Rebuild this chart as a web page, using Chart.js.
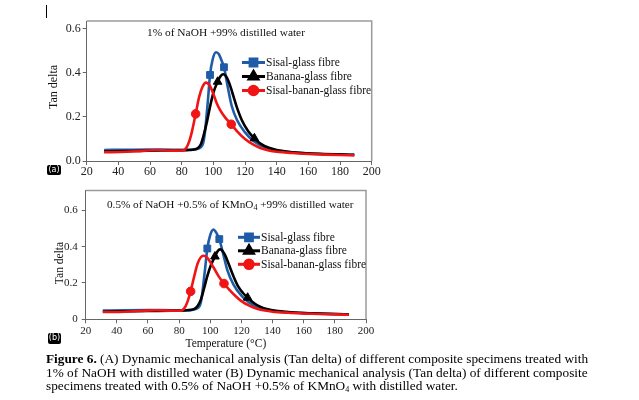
<!DOCTYPE html>
<html>
<head>
<meta charset="utf-8">
<script src="https://cdn.jsdelivr.net/npm/chart.js@4.4.0/dist/chart.umd.min.js"></script>
<style>
  body { margin: 0; background: #fff; width: 639px; height: 400px; position: relative; overflow: hidden; font-family: "Liberation Serif", serif; }
  canvas { position: absolute; left: 0; }
  .t { position: absolute; white-space: nowrap; color: #111; }
  .ytitle { position: absolute; font-size: 12px; white-space: nowrap; color: #111; transform: translate(-50%, -50%) rotate(-90deg); }
  .tag { position: absolute; background: #000; color: #fff; font-family: "DejaVu Sans", sans-serif; font-size: 8px; line-height: 10px; border-radius: 2px; text-align: center; }
  .sub { font-size: 8px; position: relative; top: 2px; }
  #cap { position: absolute; left: 46px; top: 352px; font-size: 13.3px; line-height: 13.5px; white-space: nowrap; color: #000; }
</style>
</head>
<body>
<div style="position:absolute;left:46px;top:5px;width:1px;height:13px;background:#000"></div>

<canvas id="chartA" width="400" height="182" style="top:0"></canvas>
<canvas id="chartB" width="400" height="172" style="top:180px"></canvas>

<div class="t" style="left:147px;top:26px;font-size:11.4px">1% of NaOH +99% distilled water</div>
<div class="t" style="left:107px;top:198px;font-size:11.2px">0.5% of NaOH +0.5% of KMnO<span class="sub">4</span> +99% distilled water</div>
<div class="ytitle" style="left:53px;top:87px">Tan delta</div>
<div class="ytitle" style="left:59px;top:263px;font-size:11.5px">Tan delta</div>
<div class="tag" style="left:47px;top:165px;width:14px;height:10px">(a)</div>
<div class="tag" style="left:48px;top:333px;width:13px;height:11px">(b)</div>

<div id="cap"><b>Figure 6.</b> (A) Dynamic mechanical analysis (Tan delta) of different composite specimens treated with<br>1% of NaOH with distilled water (B) Dynamic mechanical analysis (Tan delta) of different composite<br>specimens treated with 0.5% of NaOH +0.5% of KMnO<span class="sub">4</span> with distilled water.</div>

<script>
// series labels
var seriesNames = ['Sisal-glass fibre', 'Banana-glass fibre', 'Sisal-banan-glass fibre'];
var xTicks = [20, 40, 60, 80, 100, 120, 140, 160, 180, 200];
var yTicksA = ['0.0', '0.2', '0.4', '0.6'];
var yTicksB = ['0', '0.2', '0.4', '0.6'];

// (a) 1% NaOH
var sisalA_T = [31, 45, 60, 75, 85, 89, 92, 93.5, 94.5, 95.5, 96.5, 97.9, 99.5, 101.7, 103.5, 105, 106.7, 109, 111.6, 115, 120, 125, 130, 135, 140, 150, 160, 170, 180, 189];
var sisalA_V = [0.050, 0.051, 0.052, 0.051, 0.051, 0.054, 0.062, 0.080, 0.120, 0.190, 0.270, 0.391, 0.460, 0.494, 0.485, 0.460, 0.426, 0.340, 0.250, 0.185, 0.130, 0.093, 0.070, 0.056, 0.047, 0.039, 0.034, 0.031, 0.029, 0.028];
var sisalA_marks = [97.9, 106.7];

var bananaA_T = [31, 45, 60, 75, 85, 89.5, 92, 93.6, 96, 97.9, 100, 102.7, 104.5, 106.3, 108, 110, 112, 114.7, 118, 122, 125.9, 130, 135, 140, 150, 160, 170, 180, 189];
var bananaA_V = [0.043, 0.045, 0.047, 0.048, 0.050, 0.055, 0.075, 0.110, 0.180, 0.247, 0.310, 0.360, 0.385, 0.394, 0.385, 0.355, 0.310, 0.247, 0.185, 0.135, 0.103, 0.078, 0.060, 0.050, 0.040, 0.035, 0.032, 0.030, 0.028];
var bananaA_marks = [102.7, 125.9];

var mixA_T = [31, 45, 55, 65, 72, 80, 82, 84, 86, 88.8, 91, 93, 95.4, 97.5, 100, 102, 104.2, 107.5, 111.3, 115, 120, 125, 130, 135, 140, 150, 160, 170, 180, 189];
var mixA_V = [0.040, 0.042, 0.046, 0.050, 0.047, 0.047, 0.052, 0.075, 0.120, 0.214, 0.290, 0.335, 0.356, 0.345, 0.305, 0.265, 0.232, 0.197, 0.167, 0.135, 0.100, 0.075, 0.058, 0.048, 0.042, 0.036, 0.032, 0.029, 0.027, 0.026];
var mixA_marks = [88.8, 111.3];

// (b) 0.5% NaOH + 0.5% KMnO4
var sisalB_T = [31, 45, 60, 75, 85, 89, 92, 93.5, 94.5, 95.5, 96.7, 98.1, 100, 102, 104, 105.8, 108, 111, 115, 120, 125, 130, 135, 140, 150, 160, 170, 180, 189];
var sisalB_V = [0.048, 0.050, 0.051, 0.050, 0.050, 0.053, 0.062, 0.080, 0.120, 0.190, 0.280, 0.390, 0.465, 0.495, 0.475, 0.442, 0.370, 0.270, 0.190, 0.130, 0.092, 0.070, 0.055, 0.047, 0.039, 0.034, 0.031, 0.029, 0.027];
var sisalB_marks = [98.1, 105.8];

var bananaB_T = [31, 45, 60, 75, 85, 89.5, 92, 94, 96, 98, 100.5, 103, 104.7, 106.3, 108, 110, 112, 115, 118, 121, 124, 128, 132, 137, 142, 150, 160, 170, 180, 189];
var bananaB_V = [0.042, 0.044, 0.046, 0.047, 0.050, 0.056, 0.075, 0.110, 0.170, 0.235, 0.300, 0.346, 0.375, 0.385, 0.375, 0.345, 0.300, 0.235, 0.180, 0.145, 0.119, 0.090, 0.070, 0.055, 0.047, 0.040, 0.035, 0.032, 0.029, 0.027];
var bananaB_marks = [103, 124];

var mixB_T = [31, 45, 55, 65, 72, 80, 82, 84, 85.5, 87.4, 89.5, 92, 95.5, 98, 100, 102.5, 105.5, 108.8, 112, 116, 120, 125, 130, 135, 140, 150, 160, 170, 180, 189];
var mixB_V = [0.040, 0.042, 0.046, 0.050, 0.048, 0.047, 0.050, 0.070, 0.100, 0.154, 0.230, 0.310, 0.350, 0.340, 0.315, 0.280, 0.235, 0.197, 0.165, 0.130, 0.100, 0.075, 0.058, 0.048, 0.042, 0.036, 0.032, 0.029, 0.027, 0.025];
var mixB_marks = [87.4, 108.8];

var colors = ['#1f5ca8', '#000000', '#f01414'];
var markers = ['rect', 'triangle', 'circle'];
var markerSize = [4.8, 5, 4.3];

function pts(T, V) {
    return T.map(function (t, i) { return { x: t, y: V[i] }; });
}

function makeSet(i, T, V, marks) {
    return {
        label: seriesNames[i],
        data: pts(T, V),
        borderColor: colors[i],
        backgroundColor: colors[i],
        borderWidth: 2.6,
        pointStyle: markers[i],
        pointBackgroundColor: colors[i],
        pointBorderColor: colors[i],
        pointBorderWidth: 1,
        pointRadius: function (ctx) {
            return marks.indexOf(ctx.raw.x) >= 0 ? markerSize[i] : 0;
        },
        tension: 0.4,
        cubicInterpolationMode: 'monotone',
        order: 2 - i
    };
}

// grey top/right border of the plot box
var framePlugin = {
    id: 'frame',
    beforeDatasetsDraw: function (chart) {
        var a = chart.chartArea, c = chart.ctx;
        c.save();
        c.strokeStyle = '#9a9a9a';
        c.lineWidth = 1.5;
        c.beginPath();
        c.moveTo(a.left, a.top);
        c.lineTo(a.right, a.top);
        c.lineTo(a.right, a.bottom);
        c.stroke();
        c.restore();
    }
};

// line + marker legend like the excel one
var legendPlugin = {
    id: 'lineLegend',
    afterDraw: function (chart, args, opts) {
        var c = chart.ctx;
        c.save();
        chart.data.datasets.forEach(function (ds, i) {
            var y = opts.y + i * opts.dy;
            c.strokeStyle = ds.borderColor;
            c.lineWidth = 3;
            c.beginPath();
            c.moveTo(opts.x, y);
            c.lineTo(opts.x + opts.len, y);
            c.stroke();
            c.fillStyle = ds.borderColor;
            Chart.helpers.drawPoint(c, { pointStyle: ds.pointStyle, radius: markerSize[i], rotation: 0, borderWidth: 1 }, opts.x + opts.len / 2, y);
            c.fill();
            c.fillStyle = '#111';
            c.font = '11.5px "Liberation Serif", serif';
            c.textBaseline = 'middle';
            c.fillText(ds.label, opts.x + opts.len + 1, y + 0.5);
        });
        c.restore();
    }
};

function makeChart(id, sets, cfg) {
    var tickFont = { family: '"Liberation Serif", serif', size: cfg.fs };
    return new Chart(document.getElementById(id), {
        type: 'line',
        data: { datasets: sets },
        plugins: [framePlugin, legendPlugin],
        options: {
            responsive: false,
            animation: false,
            events: [],
            layout: { padding: { left: 0, top: cfg.top, right: cfg.right, bottom: 0 } },
            plugins: {
                legend: { display: false },
                tooltip: { enabled: false },
                lineLegend: cfg.legend
            },
            scales: {
                x: {
                    type: 'linear',
                    min: 20,
                    max: 200,
                    afterBuildTicks: function (s) { s.ticks = xTicks.map(function (v) { return { value: v }; }); },
                    afterFit: function (s) { s.height = cfg.xh; },
                    ticks: { color: '#222', padding: cfg.xpad, maxRotation: 0, font: tickFont },
                    grid: { drawOnChartArea: false, tickLength: 4, color: '#666' },
                    border: { color: '#666', width: 1 },
                    title: cfg.xTitle ? { display: true, text: cfg.xTitle, color: '#111', padding: { top: 0, bottom: 1 }, font: { family: '"Liberation Serif", serif', size: 11.5 } } : { display: false }
                },
                y: {
                    min: 0,
                    max: cfg.ymax,
                    afterBuildTicks: function (s) { s.ticks = [0, 0.2, 0.4, 0.6].map(function (v) { return { value: v }; }); },
                    afterFit: function (s) { s.width = cfg.yw; },
                    ticks: {
                        color: '#222', padding: cfg.ypad,
                        font: tickFont,
                        callback: function (v, i) { return cfg.yLabels[i]; }
                    },
                    grid: { drawOnChartArea: false, tickLength: 4, color: '#666' },
                    border: { color: '#666', width: 1 }
                }
            }
        }
    });
}

makeChart('chartA', [
    makeSet(0, sisalA_T, sisalA_V, sisalA_marks),
    makeSet(1, bananaA_T, bananaA_V, bananaA_marks),
    makeSet(2, mixA_T, mixA_V, mixA_marks)
], { top: 21, right: 28.3, yw: 86.7, xh: 21, ymax: 0.636, fs: 12, xpad: 0, ypad: 2, yLabels: yTicksA, legend: { x: 242, y: 62.5, dy: 14, len: 23 } });

makeChart('chartB', [
    makeSet(0, sisalB_T, sisalB_V, sisalB_marks),
    makeSet(1, bananaB_T, bananaB_V, bananaB_marks),
    makeSet(2, mixB_T, mixB_V, mixB_marks)
], { top: 4.3, right: 34, yw: 85.7, xh: 32.7, ymax: 0.709, fs: 11, xpad: 1, ypad: 4, yLabels: yTicksB, xTitle: 'Temperature (°C)', legend: { x: 238, y: 57.3, dy: 13.5, len: 22 } });
</script>
</body>
</html>
